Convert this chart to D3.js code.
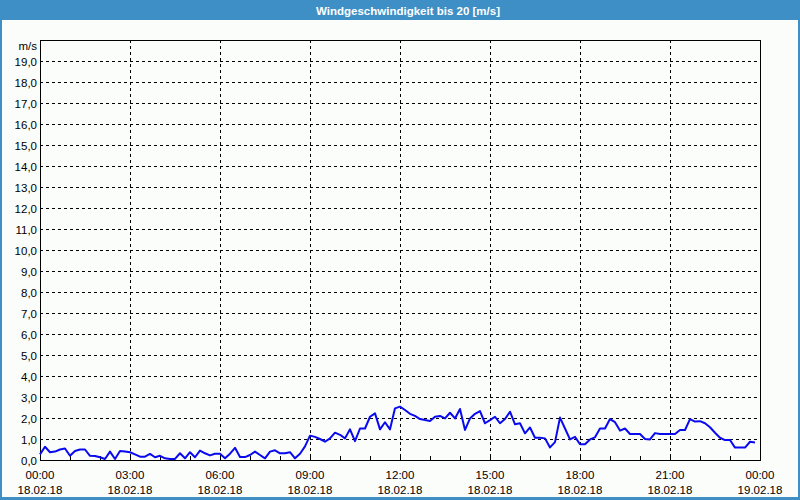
<!DOCTYPE html>
<html><head><meta charset="utf-8">
<script src="https://cdn.jsdelivr.net/npm/d3@7"></script>
<style>body{margin:0;background:#fff}svg{display:block}</style>
</head><body><svg id="c" width="800" height="500"></svg>
<script>
const title = "Windgeschwindigkeit bis 20 [m/s]";
const unitLabel = "m/s";
const startTime = "2018-02-18T00:00:00";
const endTime = "2018-02-19T00:00:00";
const stepMinutes = 10;
const yTicks = [0,1,2,3,4,5,6,7,8,9,10,11,12,13,14,15,16,17,18,19];
const windSpeed = [
0.27,0.63,0.37,0.40,0.50,0.55,0.20,0.43,0.50,0.50,0.20,0.19,0.13,0.05,0.40,0.05,0.43,0.40,0.37,0.27,
0.16,0.16,0.29,0.13,0.20,0.08,0.05,0.05,0.32,0.08,0.37,0.13,0.45,0.32,0.22,0.30,0.30,0.08,0.30,0.58,
0.14,0.14,0.24,0.40,0.24,0.08,0.40,0.46,0.32,0.32,0.37,0.08,0.30,0.65,1.16,1.10,1.00,0.87,1.03,1.30,
1.20,1.03,1.46,0.90,1.50,1.50,2.06,2.22,1.46,1.80,1.46,2.46,2.54,2.38,2.20,2.10,1.95,1.90,1.86,2.06,
2.10,1.98,2.25,1.98,2.43,1.43,1.98,2.20,2.33,1.75,1.90,2.06,1.75,1.95,2.30,1.70,1.75,1.27,1.55,1.06,
1.06,1.03,0.60,0.85,2.02,1.50,0.98,1.10,0.75,0.75,0.98,1.08,1.50,1.50,1.95,1.80,1.40,1.50,1.24,1.24,
1.24,1.00,0.98,1.28,1.24,1.24,1.24,1.24,1.43,1.43,1.95,1.83,1.85,1.75,1.56,1.30,1.06,0.95,0.95,0.59,
0.59,0.59,0.87,0.83
];

const t0 = new Date(startTime), t1 = new Date(endTime);
const data = windSpeed.map((v,i)=>({t:new Date(t0.getTime()+i*stepMinutes*60000), v}));

const svg = d3.select("#c");
const W=800,H=500;
const blue="#3d8fc5";
svg.append("rect").attr("x",0).attr("y",0).attr("width",W).attr("height",H).attr("fill",blue);
svg.append("rect").attr("x",2).attr("y",20).attr("width",W-4).attr("height",H-23).attr("fill","#fbfdfb");
svg.append("text").attr("x",408).attr("y",14.5).attr("text-anchor","middle")
  .attr("fill","#fff").attr("font-family","Liberation Sans, Arial, sans-serif")
  .attr("font-weight","bold").attr("font-size",11.5).text(title);

const L=40,R=760,T=40,B=460;
const x=d3.scaleTime().domain([t0,t1]).range([L,R]);
const y=d3.scaleLinear().domain([0,20]).range([B,T]);
const font="Liberation Sans, Arial, sans-serif";
const fs=11.5;

const g=svg.append("g");
g.selectAll("line.hg").data(yTicks.filter(d=>d>0)).join("line")
  .attr("x1",L).attr("x2",R).attr("y1",d=>y(d)+0.5).attr("y2",d=>y(d)+0.5)
  .attr("stroke","#000").attr("stroke-dasharray","3,3").attr("stroke-width",1);
const major=d3.timeHour.every(3).range(t0,t1).filter(d=>d>t0);
g.selectAll("line.vg").data(major).join("line")
  .attr("x1",d=>Math.round(x(d))+0.5).attr("x2",d=>Math.round(x(d))+0.5).attr("y1",T).attr("y2",B)
  .attr("stroke","#000").attr("stroke-dasharray","3,3").attr("stroke-width",1);
const hours=d3.timeHour.every(1).range(t0,t1).filter(d=>d>t0);
g.selectAll("line.mt").data(hours).join("line")
  .attr("x1",d=>Math.round(x(d))+0.5).attr("x2",d=>Math.round(x(d))+0.5).attr("y1",B).attr("y2",B-4)
  .attr("stroke","#000").attr("stroke-width",1);
g.append("rect").attr("x",L+0.5).attr("y",T+0.5).attr("width",R-L).attr("height",B-T)
  .attr("fill","none").attr("stroke","#000").attr("stroke-width",1);

g.selectAll("text.yl").data(yTicks).join("text")
  .attr("x",37).attr("y",d=>y(d)+4.5).attr("text-anchor","end")
  .attr("font-family",font).attr("font-size",fs).attr("fill","#000")
  .text(d=>d3.format(".1f")(d).replace(".",","));
g.append("text").attr("x",37).attr("y",50).attr("text-anchor","end")
  .attr("font-family",font).attr("font-size",fs).attr("fill","#000").text(unitLabel);

const xl=d3.timeHour.every(3).range(t0,new Date(t1.getTime()+1));
const fT=d3.timeFormat("%H:%M"), fD=d3.timeFormat("%d.%m.%y");
xl.forEach(d=>{
  g.append("text").attr("x",x(d)).attr("y",479).attr("text-anchor","middle")
   .attr("font-family",font).attr("font-size",fs).attr("fill","#000").text(fT(d));
  g.append("text").attr("x",x(d)).attr("y",494).attr("text-anchor","middle")
   .attr("font-family",font).attr("font-size",fs).attr("fill","#000").text(fD(d));
});

const line=d3.line().x(d=>x(d.t)).y(d=>y(d.v));
g.append("path").datum(data).attr("d",line).attr("fill","none")
  .attr("stroke","#0a0aee").attr("stroke-width",2).attr("stroke-linejoin","round");
</script></body></html>
